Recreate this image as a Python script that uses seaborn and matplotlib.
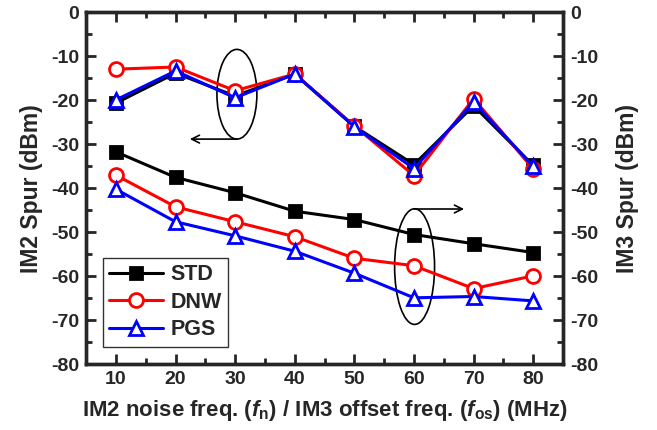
import numpy as np
import pandas as pd
import seaborn as sns
import matplotlib
matplotlib.use("Agg")
import matplotlib.pyplot as plt
from matplotlib.patches import Ellipse
from matplotlib.ticker import MultipleLocator

# ---- data ----
freqs = [10, 20, 30, 40, 50, 60, 70, 80]
series = ["STD", "DNW", "PGS"]
# IM2 spur (left axis)
im2_std = [-20.6, -13.8, -19.0, -14.0, -25.9, -34.6, -21.2, -34.8]
im2_dnw = [-12.9, -12.4, -17.8, -14.0, -25.8, -37.1, -19.6, -35.6]
im2_pgs = [-19.9, -13.3, -19.4, -14.0, -26.0, -35.5, -20.4, -35.0]
# IM3 spur (right axis)
im3_std = [-31.7, -37.5, -41.0, -45.2, -47.1, -50.5, -52.6, -54.6]
im3_dnw = [-37.0, -44.2, -47.6, -51.0, -55.9, -57.6, -62.8, -59.9]
im3_pgs = [-40.2, -47.6, -50.8, -54.3, -59.3, -64.9, -64.6, -65.6]

colors = {"STD": "black", "DNW": "#ff0000", "PGS": "#0000ff"}
markers = {"STD": "s", "DNW": "o", "PGS": "^"}
faces = {"STD": "black", "DNW": "white", "PGS": "white"}

sns.set_style("ticks")
plt.rcParams["font.family"] = ["Liberation Sans", "DejaVu Sans"]
plt.rcParams["font.weight"] = "bold"
plt.rcParams["axes.labelweight"] = "bold"
plt.rcParams["axes.unicode_minus"] = False
plt.rcParams["mathtext.fontset"] = "custom"
plt.rcParams["mathtext.it"] = "Liberation Sans:italic"
plt.rcParams["mathtext.rm"] = "Liberation Sans"

fig = plt.figure(figsize=(6.57, 4.30), dpi=100)
ax = fig.add_axes([0.131, 0.153, 0.726, 0.818])

im2 = {"STD": im2_std, "DNW": im2_dnw, "PGS": im2_pgs}
im3 = {"STD": im3_std, "DNW": im3_dnw, "PGS": im3_pgs}

for group in (im2, im3):
    for s in series:
        df = pd.DataFrame({"freq": freqs, "spur": group[s]})
        sns.lineplot(data=df, x="freq", y="spur", ax=ax, color=colors[s],
                     marker=markers[s], markersize=10 if s != "STD" else 9,
                     markerfacecolor=faces[s], markeredgecolor=colors[s],
                     markeredgewidth=2.0, linewidth=2.2,
                     label=s if group is im2 else None, legend=False)

ax.set_xlim(5, 85)
ax.set_ylim(-80, 0)
ax.xaxis.set_major_locator(MultipleLocator(10))
ax.xaxis.set_minor_locator(MultipleLocator(5))
ax.yaxis.set_major_locator(MultipleLocator(10))
ax.yaxis.set_minor_locator(MultipleLocator(5))
ax.tick_params(which="both", direction="in", top=True, right=True, width=2)
ax.tick_params(which="major", length=7, labelsize=14, pad=5)
ax.tick_params(which="minor", length=4)
for sp in ax.spines.values():
    sp.set_linewidth(2.4)
    sp.set_color("black")

ax.set_xlabel(r"IM2 noise freq. ($f_{\rm n}$) / IM3 offset freq. ($f_{\rm os}$) (MHz)",
              fontsize=16, fontweight="bold", labelpad=7)
ax.set_ylabel("IM2 Spur (dBm)", fontsize=16.5, fontweight="bold", labelpad=6)

ax2 = ax.twinx()
ax2.set_ylim(-80, 0)
ax2.yaxis.set_major_locator(MultipleLocator(10))
ax2.yaxis.set_minor_locator(MultipleLocator(5))
ax2.tick_params(which="both", direction="in", width=2)
ax2.tick_params(which="major", length=7, labelsize=14, pad=5)
ax2.tick_params(which="minor", length=4)
ax2.set_ylabel("IM3 Spur (dBm)", fontsize=16.5, fontweight="bold", labelpad=13)
for sp in ax2.spines.values():
    sp.set_linewidth(2.4)
for lbl in ax.get_xticklabels() + ax.get_yticklabels() + ax2.get_yticklabels():
    lbl.set_fontweight("bold")

# annotations
ax.add_patch(Ellipse((30.3, -18.6), 6.7, 20.4, fill=False, edgecolor="black", lw=1.2))
ax.annotate("", xy=(22.4, -28.8), xytext=(30.3, -28.8),
            arrowprops=dict(arrowstyle="->", lw=1.2, color="black", mutation_scale=14,
                            shrinkA=0, shrinkB=0))
ax.add_patch(Ellipse((60.1, -57.8), 6.7, 26.3, fill=False, edgecolor="black", lw=1.2))
ax.annotate("", xy=(68.4, -44.7), xytext=(60.1, -44.7),
            arrowprops=dict(arrowstyle="->", lw=1.2, color="black", mutation_scale=14,
                            shrinkA=0, shrinkB=0))

leg = ax.legend(loc="lower left", bbox_to_anchor=(0.035, 0.05), fontsize=15.5,
                frameon=True, fancybox=False, handlelength=2.5, borderpad=0.3,
                labelspacing=0.3, handletextpad=0.35, borderaxespad=0)
leg.get_frame().set_edgecolor("black")
leg.get_frame().set_linewidth(1.0)
for t in leg.get_texts():
    t.set_fontweight("bold")

fig.savefig("out.png", dpi=100)
